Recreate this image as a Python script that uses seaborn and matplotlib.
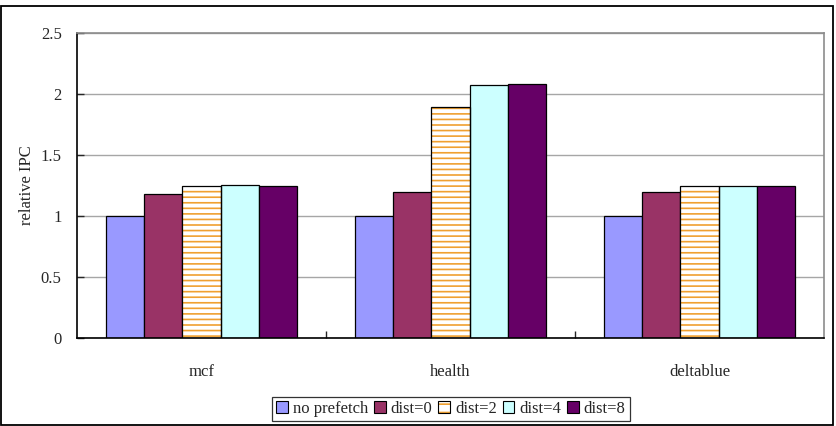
import numpy as np
import pandas as pd
import seaborn as sns
import matplotlib.pyplot as plt
from matplotlib.patches import Rectangle
from matplotlib.legend_handler import HandlerTuple

# values
benchmarks = ['mcf', 'health', 'deltablue']
configs = ['no prefetch', 'dist=0', 'dist=2', 'dist=4', 'dist=8']
no_prefetch = [1.0, 1.0, 1.0]
dist0 = [1.18, 1.20, 1.20]
dist2 = [1.245, 1.89, 1.245]
dist4 = [1.255, 2.07, 1.245]
dist8 = [1.245, 2.08, 1.245]

colors = ['#9999FF', '#993366', '#FFFFFF', '#CCFFFF', '#660066']

rows = []
for cfg, vals in zip(configs, [no_prefetch, dist0, dist2, dist4, dist8]):
    for b, v in zip(benchmarks, vals):
        rows.append({'benchmark': b, 'config': cfg, 'ipc': v})
df = pd.DataFrame(rows)

sns.set_style('white')
plt.rcParams['font.family'] = ['Liberation Serif', 'DejaVu Serif']
plt.rcParams['hatch.linewidth'] = 1.2

fig = plt.figure(figsize=(8.36, 4.26), dpi=100)
ax = fig.add_axes([0.0921, 0.2066, 0.8935, 0.716])

sns.barplot(data=df, x='benchmark', y='ipc', hue='config', order=benchmarks,
            hue_order=configs, palette=colors, width=0.77, edgecolor='black',
            linewidth=0.9, saturation=1, ax=ax, legend=False)

# striped bars for dist=2 : orange hatch, black outline drawn on top
n = len(benchmarks)
for p in ax.patches[2 * n:3 * n]:
    p.set_hatch('---')
    p.set_edgecolor('#F0A030')
    p.set_linewidth(0)
    ax.add_patch(Rectangle(p.get_xy(), p.get_width(), p.get_height(),
                           fill=False, edgecolor='black', linewidth=0.9, zorder=p.get_zorder() + 0.1))

ax.set_ylim(0, 2.5)
ax.set_xlim(-0.5, 2.5)
ax.set_yticks(np.arange(0, 2.51, 0.5))
ax.set_yticklabels(['0', '0.5', '1', '1.5', '2', '2.5'])
ax.yaxis.grid(True, color='#A6A6A6', linewidth=1)
ax.set_axisbelow(True)
ax.set_xlabel('')
ax.set_ylabel('relative IPC', fontsize=12, labelpad=4)
ax.tick_params(axis='y', direction='in', length=5, width=1, pad=11, labelsize=12, left=True)
ax.tick_params(axis='x', length=0, pad=19, labelsize=12)
ax.set_xticks([0.5, 1.5], minor=True)
ax.tick_params(axis='x', which='minor', direction='in', length=5, width=1, bottom=True)

for s in ['left', 'bottom']:
    ax.spines[s].set_color('black')
    ax.spines[s].set_linewidth(1.2)
for s in ['top', 'right']:
    ax.spines[s].set_color('#8C8C8C')
    ax.spines[s].set_linewidth(1.2)

handles = [Rectangle((0, 0), 1, 1, facecolor=c, edgecolor='black', linewidth=0.8) for c in colors]
handles[2] = (Rectangle((0, 0), 1, 1, facecolor='white', edgecolor='#F0A030', hatch='--', linewidth=0),
              Rectangle((0, 0), 1, 1, fill=False, edgecolor='black', linewidth=0.8))
leg = fig.legend(handles, configs, loc='center', bbox_to_anchor=(451 / 836, 1 - 409 / 426),
                 ncol=5, frameon=True, fancybox=False, edgecolor='black', fontsize=12,
                 handlelength=0.7, handleheight=0.7, handletextpad=0.3, columnspacing=0.35,
                 borderpad=0.25, borderaxespad=0, handler_map={tuple: HandlerTuple(ndivide=1)})
leg.get_frame().set_linewidth(0.9)

# outer chart border
fig.add_artist(Rectangle((0.001, 0.002), 0.995, 0.984, transform=fig.transFigure,
                         fill=False, edgecolor='black', linewidth=1.3))

fig.savefig('out.png', dpi=100)
